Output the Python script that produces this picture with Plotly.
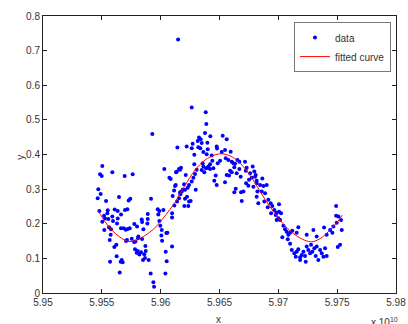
import plotly.graph_objects as go

# x values in units of 1e10
data_x = [
    5.95929, 5.96142, 5.95504, 5.95485, 5.95499, 5.95589, 5.95694, 5.95762, 5.96031, 5.96131,
    5.96156, 5.96074, 5.96085, 5.96122, 5.96114, 5.95470, 5.95490, 5.95465, 5.95536, 5.95646,
    5.95728, 5.95742, 5.95918, 5.96102, 5.95479, 5.95550, 5.95547, 5.95609, 5.95635, 5.95663,
    5.95697, 5.95717, 5.95975, 5.95989, 5.96023, 5.95980, 5.96116, 5.96097, 5.96097, 5.95519,
    5.95527, 5.95555, 5.95589, 5.95595, 5.95629, 5.95635, 5.95504, 5.95521, 5.95561, 5.95578,
    5.95575, 5.95663, 5.95686, 5.95703, 5.95720, 5.95737, 5.95776, 5.95799, 5.95839, 5.95842,
    5.95890, 5.95890, 5.95887, 5.95853, 5.95810, 5.95808, 5.95842, 5.95989, 5.95997, 5.96009,
    5.96048, 5.96057, 5.96006, 5.96012, 5.95567, 5.95623, 5.95606, 5.95706, 5.95714, 5.95754,
    5.95774, 5.95785, 5.95782, 5.95805, 5.95796, 5.95819, 5.95833, 5.95870, 5.95873, 5.95861,
    5.95867, 5.95850, 5.95898, 5.96097, 5.96043, 5.96051, 5.96040, 5.95570, 5.95626, 5.95669,
    5.95660, 5.95677, 5.95652, 5.95915, 5.95938, 5.95944, 5.96148, 5.96264,
    5.96383, 5.96388, 5.96377, 5.96422, 5.96326, 5.96340, 5.96315, 5.96349, 5.96320, 5.96337,
    5.96272, 5.96264, 5.96221, 5.96397, 5.96400, 5.96286, 5.96363, 5.96391, 5.96476, 5.96479,
    5.96527, 5.96561, 5.96547, 5.96519, 5.96595, 5.96553, 5.96505, 5.96485, 5.96575, 5.96604,
    5.96618, 5.96632, 5.96652, 5.96669, 5.96626, 5.96434, 5.96439, 5.96420, 5.96405, 5.96420,
    5.96400, 5.96448, 5.96357, 5.96363, 5.96349, 5.96371, 5.96386, 5.96286, 5.96306, 5.96292,
    5.96278, 5.96264, 5.96241, 5.96230, 5.96207, 5.96179, 5.96167, 5.96156, 5.96139, 5.96173,
    5.96165, 5.96136, 5.96128, 5.96213, 5.96199, 5.96187, 5.96165, 5.96298, 5.96224, 5.96207,
    5.96241, 5.96201, 5.96235, 5.96255, 5.96468, 5.96456, 5.96476, 5.96547, 5.96561, 5.96581,
    5.96590, 5.96604, 5.96646, 5.96638, 5.96626, 5.96683, 5.96703, 5.96689, 5.96669, 5.96680,
    5.96717, 5.96731, 5.96723, 5.96760, 5.96774, 5.96751, 5.96802, 5.96816, 5.96726, 5.96745,
    5.96788, 5.96822, 5.96816, 5.96830, 5.96782, 5.96796,
    5.96808, 5.96816, 5.96864, 5.96845, 5.96873, 5.96901, 5.96859, 5.96887, 5.96881, 5.96915,
    5.96935, 5.96910, 5.96949, 5.96938, 5.96966, 5.96986, 5.97006, 5.96978, 5.97023, 5.97000,
    5.97015, 5.96986, 5.97043, 5.97057, 5.97071, 5.97085, 5.97080, 5.97034, 5.97100, 5.97119,
    5.97156, 5.97170, 5.97100, 5.97114, 5.97136, 5.97156, 5.97170, 5.97148, 5.97185, 5.97199,
    5.97227, 5.97213, 5.97241, 5.97255, 5.97270, 5.97289, 5.97306, 5.97318, 5.97340, 5.97233,
    5.97185, 5.97278, 5.97326, 5.97355, 5.97369, 5.97397, 5.97411, 5.97383, 5.97241, 5.97298,
    5.97326, 5.97389, 5.97411, 5.97440, 5.97459, 5.97468, 5.97496, 5.97491, 5.97510, 5.97533,
    5.97491, 5.97539, 5.97525, 5.97505, 5.97006,
]
data_y = [
    0.459, 0.420, 0.367, 0.343, 0.338, 0.349, 0.338, 0.343, 0.358, 0.349,
    0.358, 0.333, 0.329, 0.309, 0.296, 0.300, 0.286, 0.274, 0.266, 0.277,
    0.267, 0.272, 0.272, 0.280, 0.237, 0.239, 0.230, 0.241, 0.237, 0.227,
    0.240, 0.242, 0.242, 0.237, 0.240, 0.227, 0.253, 0.230, 0.218, 0.223,
    0.215, 0.214, 0.221, 0.208, 0.201, 0.215, 0.206, 0.182, 0.190, 0.184,
    0.168, 0.187, 0.187, 0.183, 0.185, 0.187, 0.199, 0.192, 0.212, 0.205,
    0.228, 0.214, 0.201, 0.184, 0.163, 0.158, 0.156, 0.208, 0.194, 0.182,
    0.173, 0.174, 0.166, 0.151, 0.153, 0.139, 0.133, 0.150, 0.153, 0.157,
    0.147, 0.149, 0.126, 0.121, 0.116, 0.111, 0.118, 0.136, 0.121, 0.112,
    0.101, 0.095, 0.095, 0.134, 0.119, 0.092, 0.056, 0.090, 0.106, 0.095,
    0.090, 0.089, 0.059, 0.056, 0.031, 0.018, 0.732, 0.536,
    0.522, 0.488, 0.462, 0.453, 0.449, 0.444, 0.439, 0.433, 0.421, 0.418,
    0.431, 0.418, 0.423, 0.434, 0.415, 0.399, 0.407, 0.401, 0.423, 0.417,
    0.454, 0.444, 0.413, 0.407, 0.408, 0.389, 0.382, 0.375, 0.384, 0.379,
    0.375, 0.373, 0.384, 0.379, 0.363, 0.397, 0.382, 0.372, 0.365, 0.358,
    0.362, 0.360, 0.375, 0.365, 0.355, 0.349, 0.360, 0.372, 0.356, 0.344,
    0.333, 0.322, 0.312, 0.304, 0.298, 0.293, 0.285, 0.274, 0.264, 0.362,
    0.356, 0.350, 0.312, 0.341, 0.314, 0.298, 0.291, 0.298, 0.278, 0.272,
    0.264, 0.251, 0.251, 0.266, 0.339, 0.324, 0.312, 0.320, 0.341, 0.339,
    0.353, 0.349, 0.346, 0.301, 0.291, 0.291, 0.293, 0.266, 0.358, 0.336,
    0.379, 0.362, 0.353, 0.346, 0.333, 0.327, 0.336, 0.324, 0.317, 0.310,
    0.307, 0.293, 0.278, 0.259, 0.365, 0.351,
    0.341, 0.317, 0.331, 0.312, 0.309, 0.312, 0.293, 0.288, 0.264, 0.269,
    0.259, 0.248, 0.251, 0.230, 0.240, 0.232, 0.235, 0.225, 0.230, 0.216,
    0.211, 0.211, 0.194, 0.184, 0.177, 0.168, 0.155, 0.161, 0.174, 0.180,
    0.174, 0.190, 0.142, 0.124, 0.115, 0.119, 0.126, 0.105, 0.103, 0.110,
    0.107, 0.119, 0.134, 0.124, 0.115, 0.119, 0.129, 0.107, 0.095, 0.090,
    0.095, 0.139, 0.134, 0.124, 0.115, 0.129, 0.107, 0.105, 0.168, 0.182,
    0.163, 0.189, 0.168, 0.182, 0.174, 0.192, 0.203, 0.223, 0.221, 0.211,
    0.251, 0.182, 0.139, 0.133, 0.256,
]

fit_x = [5.95470, 5.95527, 5.95584, 5.95655, 5.95725, 5.95782, 5.95853, 5.95938, 5.96009,
         5.96080, 5.96122, 5.96165, 5.96207, 5.96292, 5.96377, 5.96462, 5.96519, 5.96590,
         5.96660, 5.96731, 5.96802, 5.96887, 5.96972, 5.97057, 5.97142, 5.97227, 5.97284,
         5.97355, 5.97425, 5.97496, 5.97544]
fit_y = [0.237, 0.206, 0.182, 0.161, 0.149, 0.151, 0.163, 0.184, 0.211,
         0.242, 0.262, 0.287, 0.311, 0.355, 0.384, 0.399, 0.402, 0.396,
         0.380, 0.353, 0.318, 0.270, 0.229, 0.194, 0.168, 0.152, 0.148,
         0.157, 0.177, 0.203, 0.225]

x_ticks = [5.95, 5.955, 5.96, 5.965, 5.97, 5.975, 5.98]
x_labels = ["5.95", "5.955", "5.96", "5.965", "5.97", "5.975", "5.98"]
y_ticks = [0, 0.1, 0.2, 0.3, 0.4, 0.5, 0.6, 0.7, 0.8]
y_labels = ["0", "0.1", "0.2", "0.3", "0.4", "0.5", "0.6", "0.7", "0.8"]

font = dict(family="Liberation Sans, Arial, sans-serif", size=10, color="#333333")

fig = go.Figure()
fig.add_trace(go.Scatter(x=data_x, y=data_y, mode="markers", name="data",
                         marker=dict(color="#0000ff", size=4, symbol="circle")))
fig.add_trace(go.Scatter(x=fit_x, y=fit_y, mode="lines", name="fitted curve",
                         line=dict(color="#ff0000", width=1, shape="spline")))

axis_common = dict(showgrid=False, zeroline=False, showline=True, linecolor="#222222",
                   linewidth=1, mirror="ticks", ticks="inside", ticklen=4,
                   tickcolor="#222222", tickfont=font, automargin=False)
fig.update_xaxes(range=[5.95, 5.98], tickvals=x_ticks, ticktext=x_labels, **axis_common)
fig.update_yaxes(range=[0, 0.8], tickvals=y_ticks, ticktext=y_labels, **axis_common)

fig.update_layout(
    width=408, height=324,
    margin=dict(l=43, r=12, t=16, b=31),
    paper_bgcolor="white", plot_bgcolor="white",
    font=font,
    legend=dict(x=0.711, y=0.978, xanchor="left", yanchor="top",
                bordercolor="#777777", borderwidth=1, bgcolor="white",
                font=font, tracegroupgap=0, itemwidth=30),
    annotations=[
        dict(text="x", x=0.497, y=-0.07, xref="paper", yref="paper",
             showarrow=False, font=font, yanchor="top"),
        dict(text="y", x=-0.085, y=0.49, xref="paper", yref="paper",
             showarrow=False, font=font, textangle=-90),
        dict(text="x 10<sup>10</sup>", x=1.01, y=-0.075, xref="paper", yref="paper",
             showarrow=False, font=font, xanchor="right", yanchor="top"),
    ],
)

fig.write_html("out.html", config={"displayModeBar": False},
               post_script="document.body.style.margin='0px';")
